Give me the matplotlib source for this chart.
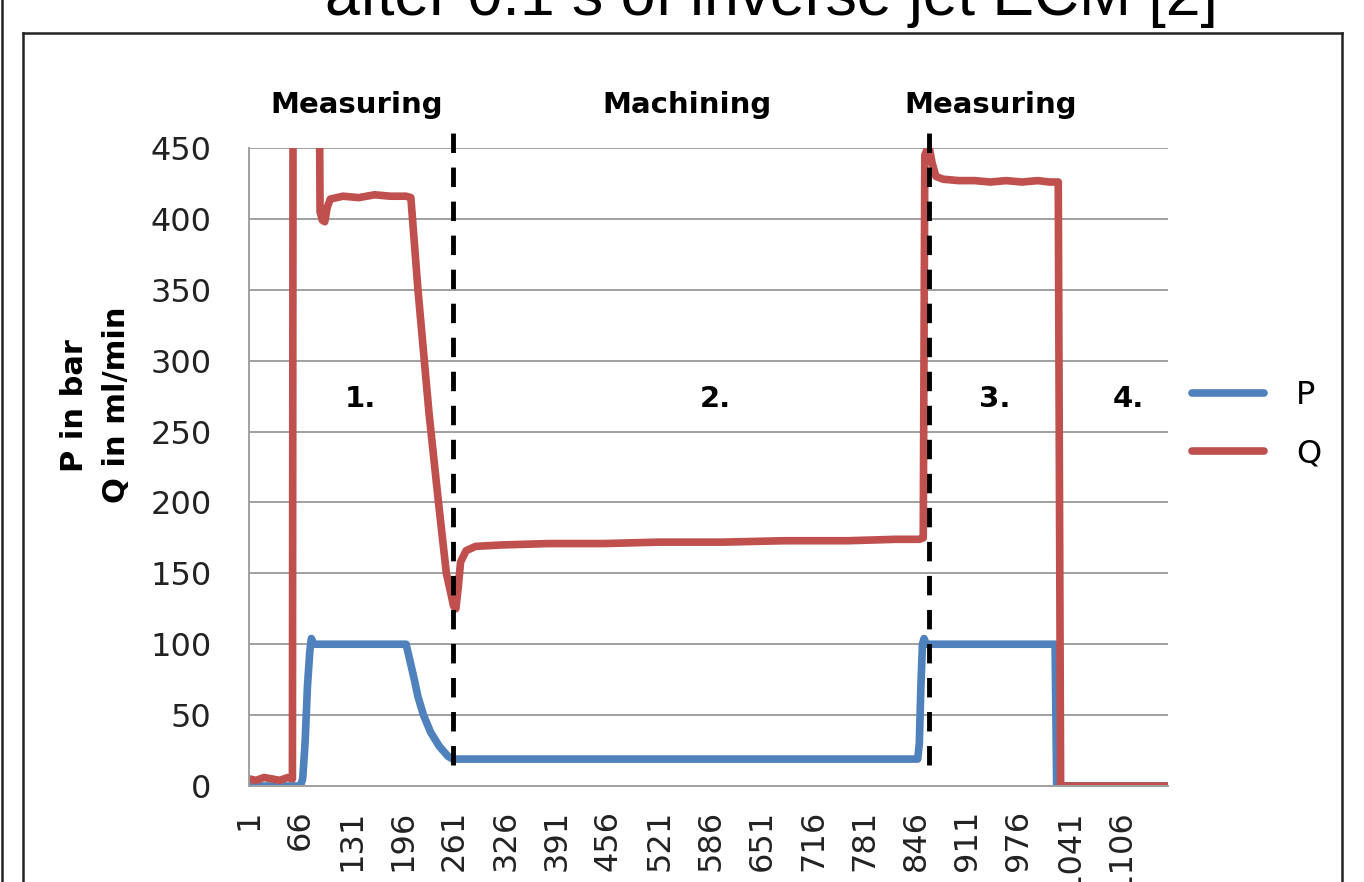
import matplotlib
matplotlib.use("Agg")
import matplotlib.pyplot as plt
from matplotlib.lines import Line2D

# sample index / value readings of the two logged channels
p_idx = [1, 66, 69, 72, 75, 78, 80, 83, 120, 160, 200, 205, 210, 215, 222, 231,
         242, 253, 259, 400, 600, 848, 850, 852, 854, 856, 859, 900, 1000, 1022,
         1024, 1165]
p_val = [0, 0, 5, 30, 70, 95, 104, 100, 100, 100, 100, 88, 76, 63, 50, 38,
         28, 21, 19, 19, 19, 19, 30, 70, 100, 104, 100, 100, 100, 100,
         0, 0]

q_idx = [1, 10, 20, 30, 40, 50, 56, 57, 89, 91, 94, 97, 100, 104, 120, 140,
         160, 180, 200, 206, 215, 229, 241, 251, 257, 260, 263, 266, 269, 276,
         288, 320, 380, 450, 520, 600, 680, 760, 820, 850, 855, 857, 862, 866,
         871, 880, 900, 920, 940, 960, 980, 1000, 1015, 1026, 1029, 1165]
q_val = [5, 4, 6, 5, 4, 6, 5, 600, 600, 405, 399, 398, 408, 414, 416, 415,
         417, 416, 416, 415, 350, 263, 200, 150, 135, 127, 125, 140, 158, 166,
         169, 170, 171, 171, 172, 172, 173, 173, 174, 174, 175, 445, 452, 440,
         430, 428, 427, 427, 426, 427, 426, 427, 426, 426, 0, 0]

x_ticks = list(range(1, 1107, 65))
y_ticks = list(range(0, 451, 50))

phase_lines = [259, 862]
phase_names = ["Measuring", "Machining", "Measuring"]
phase_name_x = [137, 556, 941]
step_labels = ["1.", "2.", "3.", "4."]
step_x = [142, 592, 946, 1115]

blue = "#4F81BD"
red = "#C0504D"
grid_gray = "#A0A0A0"

fig = plt.figure(figsize=(13.64, 8.82), dpi=100)
ax = fig.add_axes([249 / 1364, 1 - 786 / 882, 919 / 1364, 638 / 882])

ax.plot(p_idx, p_val, color=blue, lw=5.5, label="P", solid_capstyle="round")
ax.plot(q_idx, q_val, color=red, lw=5.5, label="Q", solid_capstyle="round")

for xv in phase_lines:
    ax.plot([xv, xv], [15, 464], color="black", lw=3.5, dashes=(4, 3),
            clip_on=False, zorder=5)

ax.set_xlim(1, 1165)
ax.set_ylim(0, 450)
ax.set_xticks(x_ticks)
ax.set_xticklabels([str(t) for t in x_ticks], rotation=90)
ax.set_yticks(y_ticks)
ax.tick_params(axis="both", length=0, labelsize=23, colors="#222222")
ax.tick_params(axis="y", pad=27)
ax.tick_params(axis="x", pad=17)
ax.grid(axis="y", color=grid_gray, lw=1.4)
ax.set_axisbelow(True)
for side in ["top", "right"]:
    ax.spines[side].set_visible(False)
for side in ["left", "bottom"]:
    ax.spines[side].set_color(grid_gray)
    ax.spines[side].set_linewidth(1.4)

for name, xv in zip(phase_names, phase_name_x):
    ax.text(xv, 475, name, ha="center", va="baseline", fontsize=21,
            fontweight="bold", clip_on=False)
for lab, xv in zip(step_labels, step_x):
    ax.text(xv, 267, lab, ha="center", va="baseline", fontsize=21,
            fontweight="bold")

ax.text(-0.167, 0.597, "P in bar\nQ in ml/min", transform=ax.transAxes,
        rotation=90, ha="center", va="center", fontsize=22,
        fontweight="bold", linespacing=1.55)

ax.legend(loc="center left", bbox_to_anchor=(1.026, 0.5666), frameon=False,
          fontsize=23, handlelength=2.26, handletextpad=1.0, borderpad=0,
          borderaxespad=0, labelspacing=0.85)

# surrounding frame of the figure panel and the neighbouring panel edge
frame_kw = dict(color="#222222", lw=1.8, transform=fig.transFigure)
fig.add_artist(Line2D([23.5 / 1364, 23.5 / 1364], [-0.01, 1 - 33 / 882], **frame_kw))
fig.add_artist(Line2D([23.5 / 1364, 1342 / 1364], [1 - 33 / 882, 1 - 33 / 882], **frame_kw))
fig.add_artist(Line2D([1342 / 1364, 1342 / 1364], [-0.01, 1 - 33 / 882], **frame_kw))
fig.add_artist(Line2D([1.5 / 1364, 1.5 / 1364], [-0.01, 1.01], **frame_kw))

fig.text(771 / 1364, 1 - 15 / 882, "after 0.1 s of inverse jet ECM [2]",
         ha="center", va="baseline", fontsize=45, family="Liberation Sans")

fig.savefig("out.png", dpi=100)
